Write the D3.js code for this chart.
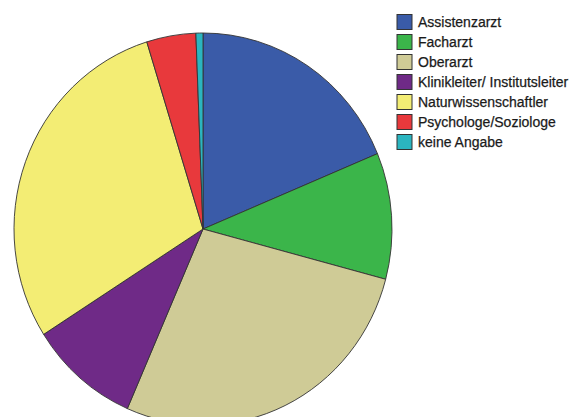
<!DOCTYPE html>
<html>
<head>
<meta charset="utf-8">
<script src="https://cdn.jsdelivr.net/npm/d3@7"></script>
<style>
  body { margin: 0; background: #fff; }
  svg { display: block; }
</style>
</head>
<body>
<div id="chart"></div>
<script>
// data (percent of respondents)
const categories = ["Assistenzarzt", "Facharzt", "Oberarzt", "Klinikleiter/ Institutsleiter",
  "Naturwissenschaftler", "Psychologe/Soziologe", "keine Angabe"];
const values = [18.7, 10.4, 27.4, 9.4, 29.2, 4.2, 0.6];
const colors = ["#3a5ba8", "#3bb54a", "#cfcb96", "#6f2a87", "#f3ed74", "#e8393c", "#2bb5c0"];

const width = 569, height = 417;
const svg = d3.select("#chart").append("svg")
  .attr("width", width)
  .attr("height", height);

const data = categories.map((c, i) => ({ name: c, value: values[i], color: colors[i] }));

// Pie (slightly stretched vertically like the source image)
const radius = 189;
const pie = d3.pie().sort(null).value(d => d.value);
const arc = d3.arc().innerRadius(0).outerRadius(radius);

const g = svg.append("g")
  .attr("transform", "translate(203,229) scale(1,1.037)");

g.selectAll("path")
  .data(pie(data))
  .enter().append("path")
  .attr("d", arc)
  .attr("fill", d => d.data.color)
  .attr("stroke", "#333")
  .attr("stroke-width", 0.9)
  .attr("vector-effect", "non-scaling-stroke");

// Legend
const legend = svg.append("g")
  .attr("transform", "translate(397,22)");

const item = legend.selectAll("g")
  .data(data)
  .enter().append("g")
  .attr("transform", (d, i) => "translate(0," + i * 20 + ")");

item.append("rect")
  .attr("y", -7.5)
  .attr("width", 15)
  .attr("height", 15)
  .attr("fill", d => d.color)
  .attr("stroke", "#333")
  .attr("stroke-width", 1);

item.append("text")
  .attr("x", 21)
  .attr("y", 5)
  .style("font-family", "'Liberation Sans', Arial, sans-serif")
  .style("font-size", "14px")
  .attr("fill", "#1a1a1a")
  .attr("stroke", "#1a1a1a")
  .attr("stroke-width", 0.25)
  .text(d => d.name);
</script>
</body>
</html>
